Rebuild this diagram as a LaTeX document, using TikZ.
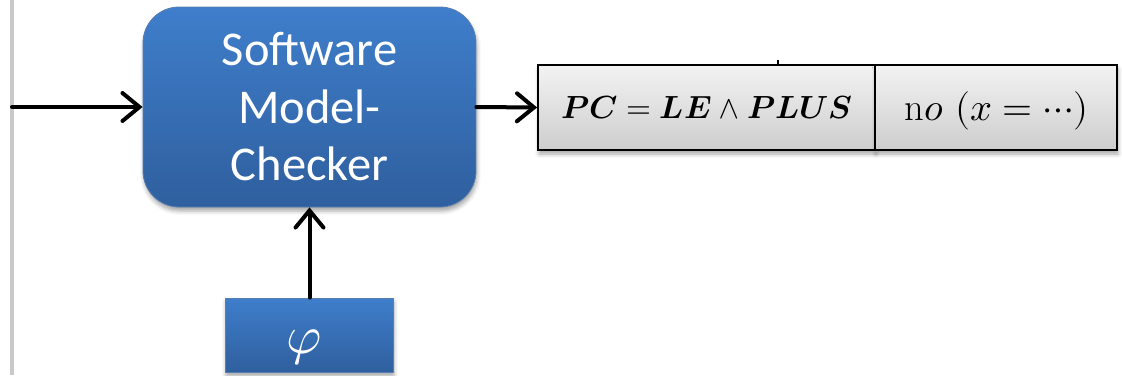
\documentclass[tikz,border=0pt]{standalone}
\usepackage{fontspec}
\usepackage{unicode-math}
\setmathfont{Latin Modern Math}
\newfontfamily\boxfont{Carlito}
\usetikzlibrary{arrows.meta,shadows.blur}
\definecolor{blueTop}{HTML}{3F7ECB}
\definecolor{blueBot}{HTML}{2F5F9E}
\definecolor{greyTop}{HTML}{F3F3F3}
\definecolor{greyBot}{HTML}{CDCDCD}
\definecolor{railGrey}{HTML}{C9C9C9}
\tikzset{
  px/.style={x=1pt,y=-1pt},
  bluebox/.style={top color=blueTop, bottom color=blueBot, draw=blueBot!80!white, line width=0.8pt,
    text=white, align=center, inner sep=0pt,
    blur shadow={shadow xshift=1pt, shadow yshift=-4pt, shadow opacity=35, shadow blur radius=4pt}},
  cell/.style={top color=greyTop, bottom color=greyBot, draw=black, line width=1.8pt, inner sep=0pt,
    minimum height=85pt,
    blur shadow={shadow xshift=1pt, shadow yshift=-4pt, shadow opacity=35, shadow blur radius=4pt}},
  flow/.style={line width=4pt, line cap=round,
    -{Straight Barb[length=17pt,width=28pt,line width=4pt,line cap=round]}},
}
\begin{document}
\begin{tikzpicture}[px]
  \useasboundingbox (0,0) rectangle (1122,375);
  \clip (0,0) rectangle (1122,375);

  % vertical rail at the left edge
  \draw[railGrey, line width=4pt] (12,0) -- (12,375);

  % model checker
  \node[bluebox, rounded corners=36pt, minimum width=333pt, minimum height=200pt,
        font=\boxfont\fontsize{48.5}{57.5}\selectfont] (mc) at (309.5,107)
        {Software\\Model-\\Checker};

  % property box
  \node[bluebox, rounded corners=0pt, minimum width=168pt, minimum height=74pt] (phi) at (309,335) {};
  \node[text=white, inner sep=0pt, font=\fontsize{54}{60}\selectfont] (phitext) at (304,347.5) {$\varphi$};

  % result boxes
  \node[cell, minimum width=337pt] (pcCell) at (706.5,107.5) {};
  \node[cell, minimum width=242pt] (noCell) at (996,107.5) {};
  \node[anchor=base, font=\fontsize{32}{36}\selectfont] (pcText) at (706.5,118)
        {$\symbfit{PC} = \symbfit{LE} \wedge \symbfit{PLUS}$};
  \node[anchor=base, font=\fontsize{38.5}{42}\selectfont] (noText) at (996.5,120)
        {$\mathrm{n}o\ (x = \cdots)$};
  \coordinate (tick) at (778,60);
  \draw[line width=1.8pt] (tick) -- (tick |- pcCell.north);

  % connectors
  \coordinate (in) at (12,107);
  \draw[flow] (in) -- (mc.west);
  \draw[flow] (mc.east) -- (pcCell.west);
  \draw[flow] (phi.north -| mc.south) -- (mc.south);
\end{tikzpicture}
\end{document}
